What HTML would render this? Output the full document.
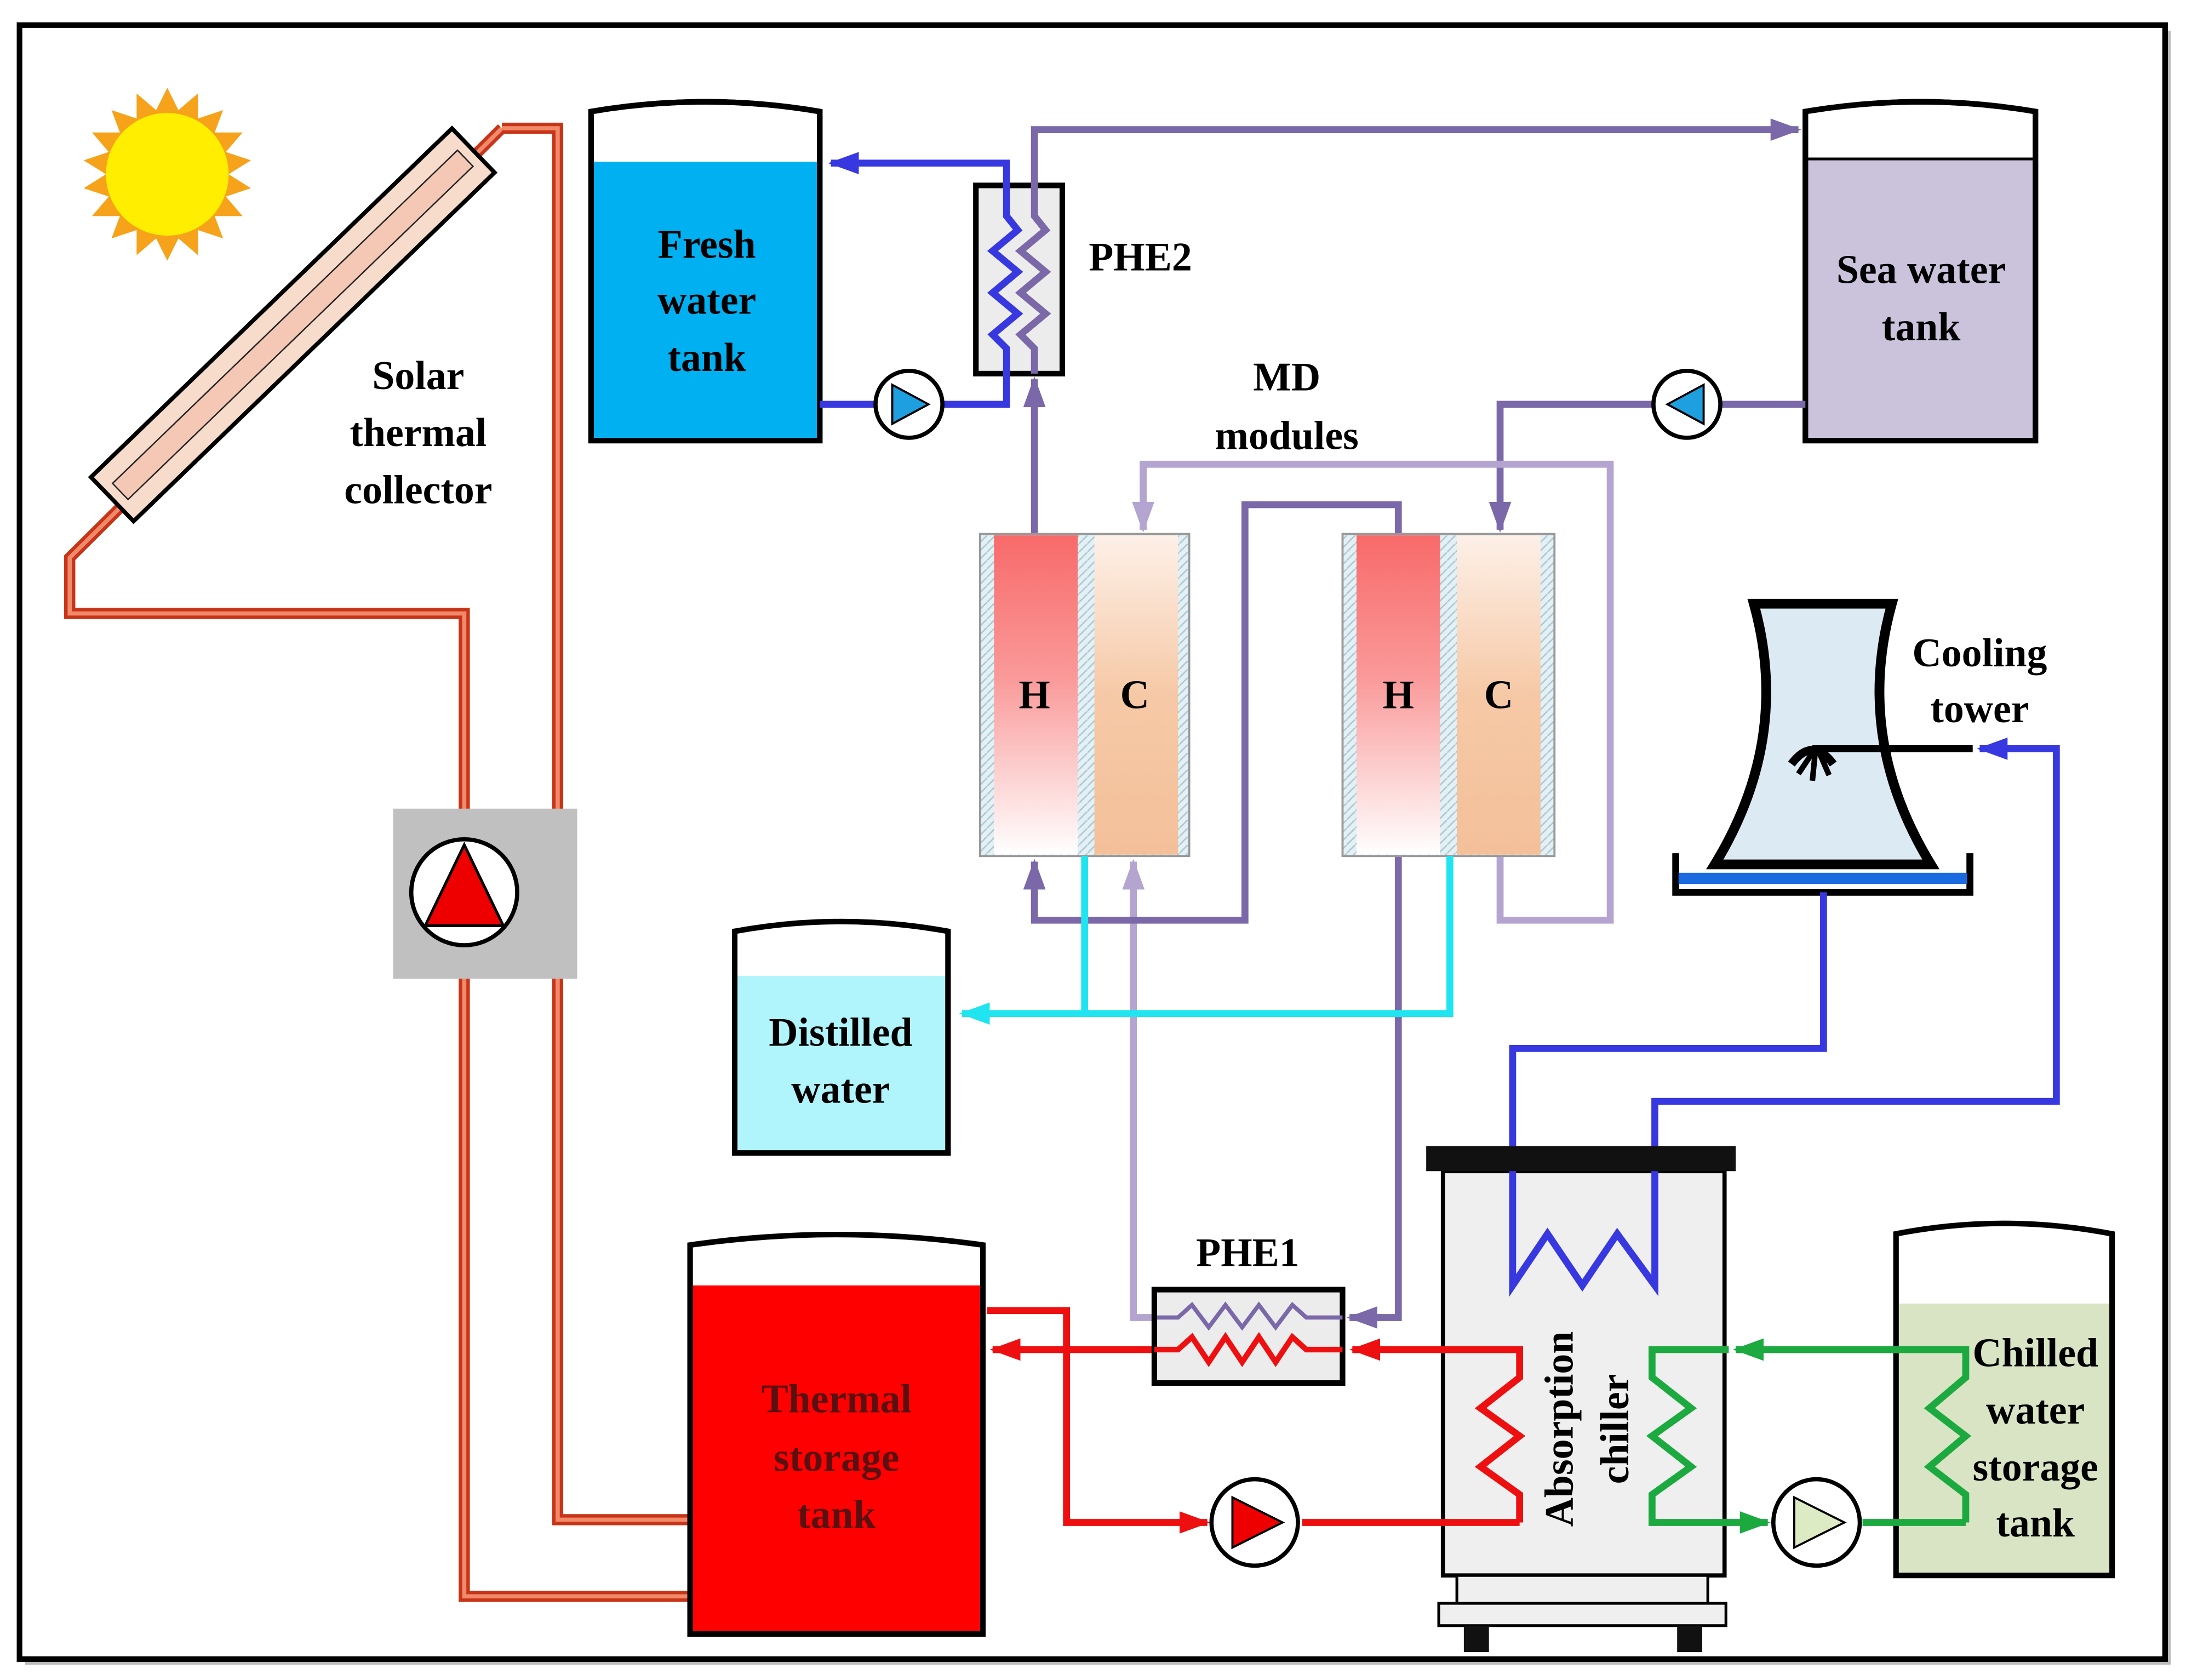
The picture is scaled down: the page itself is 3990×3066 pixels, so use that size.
<!DOCTYPE html>
<html><head><meta charset="utf-8"><style>
html,body{margin:0;padding:0;background:#fff;}
svg{display:block;}
text{font-family:"Liberation Serif",serif;font-weight:bold;font-size:29px;text-anchor:middle;}
</style></head><body>
<svg width="3990" height="3066" viewBox="0 0 1568 1205" preserveAspectRatio="none" xmlns="http://www.w3.org/2000/svg">
<defs>
<linearGradient id="gH" x1="0" y1="0" x2="0" y2="1"><stop offset="0" stop-color="#f86a6a"/><stop offset="0.45" stop-color="#fa9a9a"/><stop offset="1" stop-color="#fff"/></linearGradient>
<linearGradient id="gC" x1="0" y1="0" x2="0" y2="1"><stop offset="0" stop-color="#fdf0e8"/><stop offset="0.5" stop-color="#f6c9a6"/><stop offset="1" stop-color="#f3c09a"/></linearGradient>
<marker id="aB" markerUnits="userSpaceOnUse" markerWidth="24" markerHeight="20" refX="20" refY="10" orient="auto"><path d="M0,2 L22,10 L0,18 z" fill="#3838e0"/></marker>
<marker id="aP" markerUnits="userSpaceOnUse" markerWidth="24" markerHeight="20" refX="20" refY="10" orient="auto"><path d="M0,2 L22,10 L0,18 z" fill="#7a68a8"/></marker>
<marker id="aL" markerUnits="userSpaceOnUse" markerWidth="24" markerHeight="20" refX="20" refY="10" orient="auto"><path d="M0,2 L22,10 L0,18 z" fill="#b4a4d0"/></marker>
<marker id="aCy" markerUnits="userSpaceOnUse" markerWidth="24" markerHeight="20" refX="20" refY="10" orient="auto"><path d="M0,2 L22,10 L0,18 z" fill="#20e4f0"/></marker>
<marker id="aR" markerUnits="userSpaceOnUse" markerWidth="24" markerHeight="20" refX="20" refY="10" orient="auto"><path d="M0,2 L22,10 L0,18 z" fill="#ee1010"/></marker>
<marker id="aG" markerUnits="userSpaceOnUse" markerWidth="24" markerHeight="20" refX="20" refY="10" orient="auto"><path d="M0,2 L22,10 L0,18 z" fill="#1caa40"/></marker>
<pattern id="hatch" width="6" height="6" patternUnits="userSpaceOnUse"><rect width="6" height="6" fill="#e4f0f4"/><path d="M0,6 L6,0" stroke="#a8c8d4" stroke-width="1"/></pattern>
</defs>
<rect width="1568" height="1205" fill="#fff"/>
<rect x="18" y="22" width="1539" height="1172" fill="#bbb"/>
<rect x="14" y="18" width="1539" height="1172" fill="#fff" stroke="#000" stroke-width="4"/>

<!-- sun -->
<g transform="translate(120,125)">
<polygon fill="#f7a21b" points="0,-62 8,-46 22,-58 22,-40 40,-46 34,-30 54,-30 42,-16 60,-10 44,0 60,10 42,16 54,30 34,30 40,46 22,40 22,58 8,46 0,62 -8,46 -22,58 -22,40 -40,46 -34,30 -54,30 -42,16 -60,10 -44,0 -60,-10 -42,-16 -54,-30 -34,-30 -40,-46 -22,-40 -22,-58 -8,-46"/>
<circle r="44" fill="#ffee00"/>
</g>

<!-- solar pipes -->
<g fill="none" stroke-linejoin="miter">
<path d="M360,92 L400,92 L400,1090 L495,1090" stroke="#c83418" stroke-width="8"/>
<path d="M360,92 L400,92 L400,1090 L495,1090" stroke="#f08a6a" stroke-width="3"/>
<path d="M360,92 L50,400 L50,440 L333,440 L333,1145 L495,1145" stroke="#c83418" stroke-width="8"/>
<path d="M360,92 L50,400 L50,440 L333,440 L333,1145 L495,1145" stroke="#f08a6a" stroke-width="3"/>
</g>
<!-- collector -->
<g transform="translate(210,233) rotate(-44)">
<rect x="-180" y="-22" width="360" height="44" fill="#f7dccc" stroke="#000" stroke-width="3"/>
<rect x="-172" y="-8" width="344" height="16" fill="#f4c8b4" stroke="#222" stroke-width="1"/>
</g>
<text x="300" y="279">Solar</text><text x="300" y="320">thermal</text><text x="300" y="361">collector</text>

<!-- pump w/ gray box -->
<rect x="282" y="580" width="132" height="122" fill="#c0c0c0"/>
<circle cx="333" cy="640" r="38" fill="#fff" stroke="#000" stroke-width="3"/>
<polygon points="333,606 305,664 361,664" fill="#ee0000" stroke="#000" stroke-width="2"/>

<!-- Fresh water tank -->
<path d="M424,316 L424,80 Q506,66 588,80 L588,316 Z" fill="#fff" stroke="#000" stroke-width="4"/>
<rect x="426" y="116" width="160" height="198" fill="#00b0f0"/>
<path d="M424,316 L424,80 Q506,66 588,80 L588,316 Z" fill="none" stroke="#000" stroke-width="4"/>
<text x="507" y="185">Fresh</text><text x="507" y="225">water</text><text x="507" y="266">tank</text>

<!-- Sea water tank -->
<path d="M1295,316 L1295,80 Q1378,66 1460,80 L1460,316 Z" fill="#fff" stroke="#000" stroke-width="4"/>
<rect x="1297" y="114" width="161" height="200" fill="#cbc3dc"/>
<line x1="1295" y1="114" x2="1460" y2="114" stroke="#000" stroke-width="2"/>
<path d="M1295,316 L1295,80 Q1378,66 1460,80 L1460,316 Z" fill="none" stroke="#000" stroke-width="4"/>
<text x="1378" y="203">Sea water</text><text x="1378" y="244">tank</text>

<!-- PHE2 -->
<rect x="700" y="133" width="62" height="135" fill="#ececec" stroke="#000" stroke-width="4"/>
<text x="818" y="194">PHE2</text>

<!-- blue fresh loop -->
<path d="M588,290 L628,290" stroke="#3838e0" stroke-width="5" fill="none"/>
<path d="M676,290 L722,290 L722,250 L712,240 L730,225 L712,210 L730,195 L712,180 L730,165 L722,155 L722,117 L596,117" stroke="#3838e0" stroke-width="5" fill="none" marker-end="url(#aB)"/>
<circle cx="652" cy="290" r="24" fill="#fff" stroke="#000" stroke-width="3"/>
<polygon points="640,276 666,290 640,304" fill="#1ea0e0" stroke="#000" stroke-width="1.5"/>

<!-- purple: module H to PHE2 to sea tank -->
<path d="M742,383 L742,272" stroke="#7a68a8" stroke-width="5" fill="none" marker-end="url(#aP)"/>
<path d="M742,268 L742,250 L732,240 L750,225 L732,210 L750,195 L732,180 L750,165 L742,155 L742,93 L1290,93" stroke="#7a68a8" stroke-width="5" fill="none" marker-end="url(#aP)"/>

<!-- sea pump line -->
<path d="M1295,290 L1234,290" stroke="#7a68a8" stroke-width="5" fill="none"/>
<path d="M1186,290 L1076,290 L1076,380" stroke="#7a68a8" stroke-width="5" fill="none" marker-end="url(#aP)"/>
<circle cx="1210" cy="290" r="24" fill="#fff" stroke="#000" stroke-width="3"/>
<polygon points="1222,276 1196,290 1222,304" fill="#1ea0e0" stroke="#000" stroke-width="1.5"/>

<text x="923" y="280">MD</text><text x="923" y="322">modules</text>

<!-- light purple loop -->
<path d="M1076,614 L1076,660 L1155,660 L1155,333 L820,333 L820,380" stroke="#b4a4d0" stroke-width="5" fill="none" marker-end="url(#aL)"/>
<path d="M828,945 L813,945 L813,618" stroke="#b4a4d0" stroke-width="5" fill="none" marker-end="url(#aL)"/>

<!-- dark purple -->
<path d="M1003,383 L1003,362 L893,362 L893,660 L742,660 L742,618" stroke="#7a68a8" stroke-width="5" fill="none" marker-end="url(#aP)"/>
<path d="M1003,614 L1003,945 L968,945" stroke="#7a68a8" stroke-width="5" fill="none" marker-end="url(#aP)"/>

<!-- modules -->
<rect x="703" y="383" width="150" height="231" fill="url(#hatch)" stroke="#999" stroke-width="1.5"/>
<rect x="713" y="384" width="60" height="229" fill="url(#gH)"/>
<rect x="785" y="384" width="60" height="229" fill="url(#gC)"/>
<text x="742" y="508">H</text><text x="814" y="508">C</text>
<rect x="963" y="383" width="152" height="231" fill="url(#hatch)" stroke="#999" stroke-width="1.5"/>
<rect x="973" y="384" width="60" height="229" fill="url(#gH)"/>
<rect x="1045" y="384" width="60" height="229" fill="url(#gC)"/>
<text x="1003" y="508">H</text><text x="1075" y="508">C</text>

<!-- cyan -->
<path d="M778,614 L778,727 M1040,614 L1040,727 L690,727" stroke="#20e4f0" stroke-width="5" fill="none" marker-end="url(#aCy)"/>

<!-- Distilled water -->
<path d="M527,827 L527,668 Q603,654 680,668 L680,827 Z" fill="#fff"/>
<rect x="529" y="700" width="149" height="125" fill="#b0f4fc"/>
<path d="M527,827 L527,668 Q603,654 680,668 L680,827 Z" fill="none" stroke="#000" stroke-width="4"/>
<text x="603" y="750">Distilled</text><text x="603" y="791">water</text>

<!-- Cooling tower -->
<path d="M1258,433 L1357,433 Q1330,530 1385,620 L1230,620 Q1285,530 1258,433 Z" fill="#dcebf3" stroke="#000" stroke-width="7"/>
<path d="M1202,612 L1202,640 L1413,640 L1413,612" fill="none" stroke="#000" stroke-width="5"/>
<rect x="1204" y="626" width="207" height="8" fill="#1a6ae0"/>
<line x1="1300" y1="537" x2="1415" y2="537" stroke="#000" stroke-width="5"/>
<path d="M1285,548 Q1300,528 1315,548" fill="none" stroke="#000" stroke-width="6"/>
<path d="M1290,555 L1300,540 M1300,560 L1302,540 M1312,556 L1305,540" stroke="#000" stroke-width="4"/>
<text x="1420" y="478">Cooling</text><text x="1420" y="518">tower</text>

<!-- blue cooling loop -->
<path d="M1308,640 L1308,752 L1085,752 L1085,922 L1110,885 L1135,922 L1160,885 L1187,922 L1187,790 L1475,790 L1475,537 L1420,537" stroke="#3838e0" stroke-width="5" fill="none" marker-end="url(#aB)"/>

<!-- Absorption chiller -->
<rect x="1035" y="840" width="202" height="290" fill="#efefef" stroke="#000" stroke-width="3"/>
<rect x="1023" y="822" width="222" height="18" fill="#111"/>
<rect x="1045" y="1130" width="180" height="20" fill="#efefef" stroke="#000" stroke-width="2"/>
<rect x="1032" y="1150" width="206" height="16" fill="#efefef" stroke="#000" stroke-width="2"/>
<rect x="1050" y="1166" width="18" height="19" fill="#111"/>
<rect x="1203" y="1166" width="18" height="19" fill="#111"/>
<path d="M1085,840 L1085,922 L1110,885 L1135,922 L1160,885 L1187,922 L1187,840" stroke="#3838e0" stroke-width="5" fill="none"/>
<text transform="translate(1128,1025) rotate(-90)">Absorption</text>
<text transform="translate(1168,1025) rotate(-90)">chiller</text>

<!-- red loop -->
<path d="M1090,1092 L1090,1072 L1062,1052 L1090,1030 L1062,1010 L1090,988 L1090,968 L970,968" stroke="#ee1010" stroke-width="5" fill="none" marker-end="url(#aR)"/>
<path d="M828,968 L712,968" stroke="#ee1010" stroke-width="5" fill="none" marker-end="url(#aR)"/>
<path d="M708,940 L765,940 L765,1092 L866,1092" stroke="#ee1010" stroke-width="5" fill="none" marker-end="url(#aR)"/>
<path d="M934,1092 L1090,1092" stroke="#ee1010" stroke-width="5" fill="none"/>
<circle cx="900" cy="1092" r="31" fill="#fff" stroke="#000" stroke-width="3"/>
<polygon points="884,1074 920,1092 884,1110" fill="#ee0000" stroke="#000" stroke-width="1.5"/>

<!-- PHE1 -->
<rect x="828" y="925" width="135" height="67" fill="#ececec" stroke="#000" stroke-width="4"/>
<path d="M830,945 L845,945 L855,936 L867,952 L879,936 L891,952 L903,936 L915,952 L927,936 L937,945 L963,945" stroke="#7a68a8" stroke-width="3" fill="none"/>
<path d="M828,968 L845,968 L855,959 L867,977 L879,959 L891,977 L903,959 L915,977 L927,959 L937,968 L963,968" stroke="#ee1010" stroke-width="4" fill="none"/>
<text x="895" y="908">PHE1</text>

<!-- Thermal storage tank -->
<path d="M495,1172 L495,893 Q600,878 705,893 L705,1172 Z" fill="#fff"/>
<rect x="497" y="922" width="206" height="248" fill="#ff0000"/>
<path d="M495,1172 L495,893 Q600,878 705,893 L705,1172 Z" fill="none" stroke="#000" stroke-width="4"/>
<text x="600" y="1013" fill="#5a1010">Thermal</text><text x="600" y="1055" fill="#5a1010">storage</text><text x="600" y="1096" fill="#5a1010">tank</text>

<!-- Chilled water tank -->
<path d="M1360,1130 L1360,885 Q1437,870 1515,885 L1515,1130 Z" fill="#fff"/>
<rect x="1362" y="935" width="151" height="193" fill="#d8e4c4"/>
<path d="M1360,1130 L1360,885 Q1437,870 1515,885 L1515,1130 Z" fill="none" stroke="#000" stroke-width="4"/>

<!-- green loop -->
<path d="M1410,1092 L1410,1072 L1384,1052 L1410,1030 L1384,1010 L1410,988 L1410,968 L1245,968" stroke="#1caa40" stroke-width="5" fill="none" marker-end="url(#aG)"/>
<path d="M1240,968 L1185,968 L1185,988 L1213,1010 L1185,1030 L1213,1052 L1185,1072 L1185,1092 L1268,1092" stroke="#1caa40" stroke-width="5" fill="none" marker-end="url(#aG)"/>
<path d="M1336,1092 L1410,1092" stroke="#1caa40" stroke-width="5" fill="none"/>
<circle cx="1303" cy="1092" r="31" fill="#fff" stroke="#000" stroke-width="3"/>
<polygon points="1287,1074 1323,1092 1287,1110" fill="#dcebc4" stroke="#000" stroke-width="1.5"/>
<text x="1460" y="980">Chilled</text><text x="1460" y="1021">water</text><text x="1460" y="1062">storage</text><text x="1460" y="1102">tank</text>
</svg>
</body></html>
